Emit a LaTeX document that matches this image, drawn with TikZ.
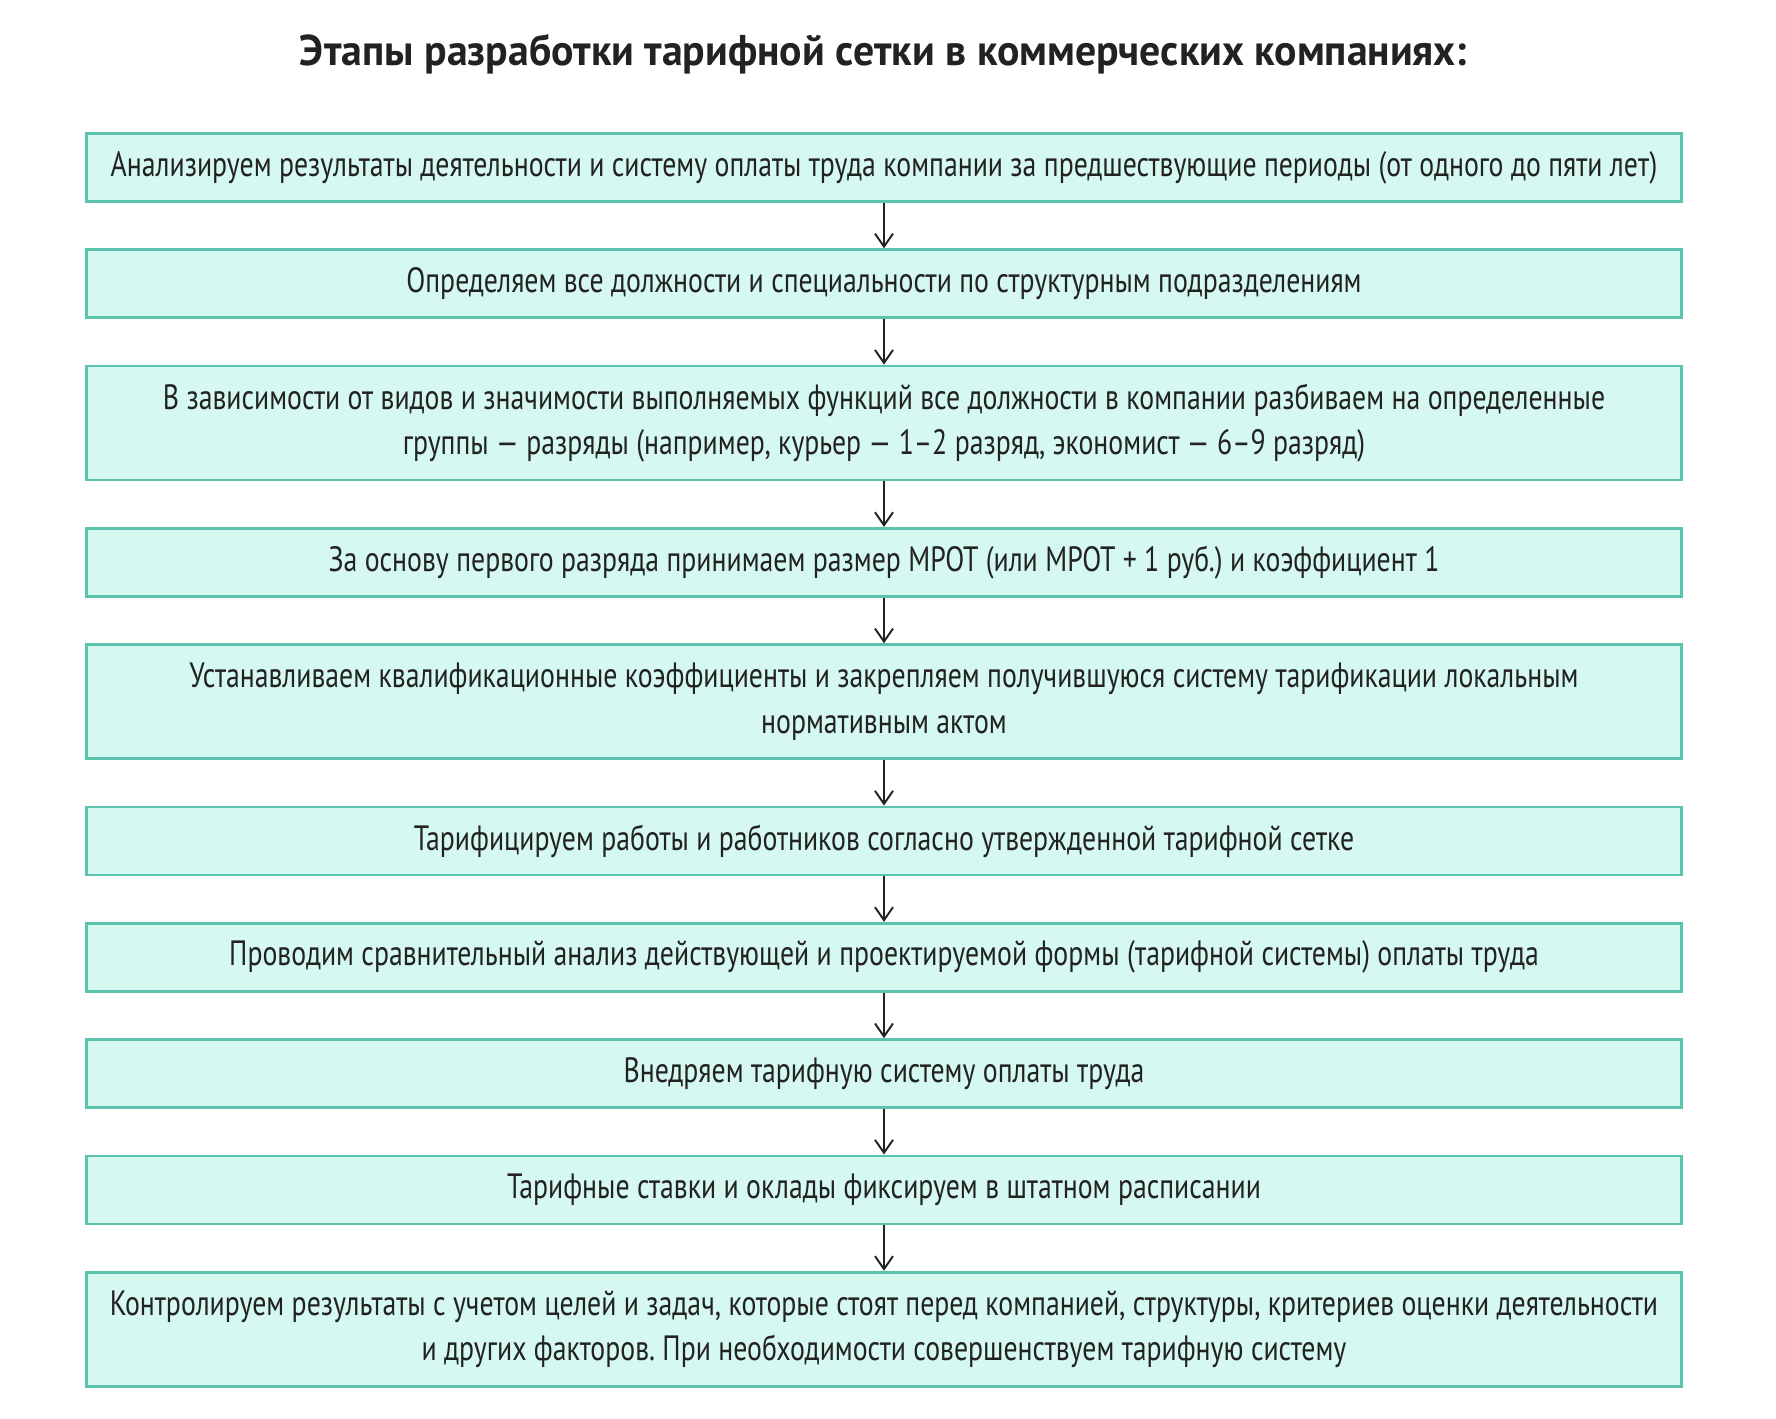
\documentclass[tikz,border=0pt]{standalone}
\usepackage{fontspec}
\setmainfont{PT Sans}
\usetikzlibrary{positioning,arrows.meta}
\definecolor{stagefill}{HTML}{D5F8F0}
\definecolor{stageline}{HTML}{5BC2AE}
\definecolor{inkgray}{HTML}{222222}
% narrow the sans face to a condensed look
\newcommand{\sq}[1]{\scalebox{0.79}[1]{#1}}
\begin{document}
\frenchspacing
\begin{tikzpicture}[
    node distance=0.91cm,
    stage/.style={draw=stageline, fill=stagefill, line width=1.6pt,
        minimum width=31.9cm, minimum height=1.36cm,
        align=center, text=inkgray, font=\fontsize{20}{25.9}\selectfont},
    tallstage/.style={stage, minimum height=2.28cm},
    flow/.style={-{Straight Barb[length=2.6mm, width=3.6mm]}, line width=1.1pt, draw=inkgray}
]
    \useasboundingbox (0,0) rectangle (35.52,-28.38);
    % Title
    \node[anchor=base, font=\bfseries\fontsize{24.5}{30}\selectfont, text=inkgray] (title) at (17.67,-1.32)
        {\scalebox{0.97}[1]{Этапы разработки тарифной сетки в коммерческих компаниях:}};

    % Stages
    \node[stage, anchor=north] (s1) at (17.68,-2.64)
        {\sq{Анализируем результаты деятельности и систему оплаты труда компании за предшествующие периоды (от одного до пяти лет)}};
    \node[stage, below=of s1] (s2)
        {\sq{Определяем все должности и специальности по структурным подразделениям}};
    \node[tallstage, below=of s2] (s3)
        {\sq{В зависимости от видов и значимости выполняемых функций все должности в компании разбиваем на определенные}\\
         \sq{группы — разряды (например, курьер — 1–2 разряд, экономист — 6–9 разряд)}};
    \node[stage, below=of s3] (s4)
        {\sq{За основу первого разряда принимаем размер МРОТ (или МРОТ + 1 руб.) и коэффициент 1}};
    \node[tallstage, below=of s4] (s5)
        {\sq{Устанавливаем квалификационные коэффициенты и закрепляем получившуюся систему тарификации локальным}\\
         \sq{нормативным актом}};
    \node[stage, below=of s5] (s6)
        {\sq{Тарифицируем работы и работников согласно утвержденной тарифной сетке}};
    \node[stage, below=of s6] (s7)
        {\sq{Проводим сравнительный анализ действующей и проектируемой формы (тарифной системы) оплаты труда}};
    \node[stage, below=of s7] (s8)
        {\sq{Внедряем тарифную систему оплаты труда}};
    \node[stage, below=of s8] (s9)
        {\sq{Тарифные ставки и оклады фиксируем в штатном расписании}};
    \node[tallstage, below=of s9] (s10)
        {\sq{Контролируем результаты с учетом целей и задач, которые стоят перед компанией, структуры, критериев оценки деятельности}\\
         \sq{и других факторов. При необходимости совершенствуем тарифную систему}};

    % Arrows
    \foreach \a/\b in {s1/s2, s2/s3, s3/s4, s4/s5, s5/s6, s6/s7, s7/s8, s8/s9, s9/s10}
        \draw[flow] (\a) -- (\b);
\end{tikzpicture}
\end{document}
